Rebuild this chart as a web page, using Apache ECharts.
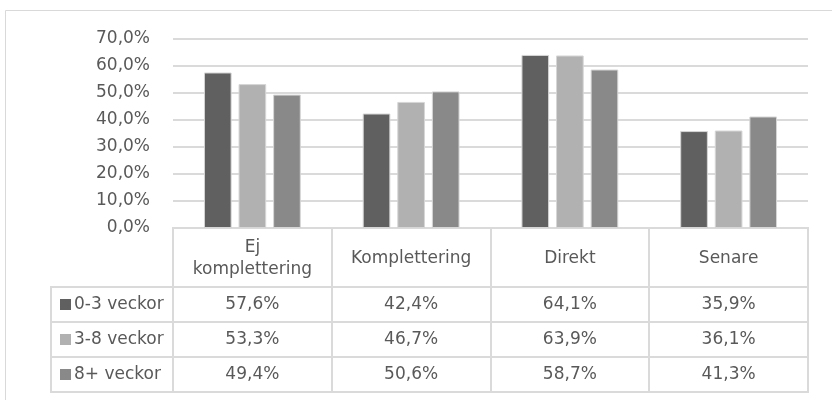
<!DOCTYPE html>
<html>
<head>
<meta charset="utf-8">
<script src="https://cdn.jsdelivr.net/npm/echarts@6/dist/echarts.min.js"></script>
<style>
  html, body { margin: 0; padding: 0; background: #fff; }
  #chart { width: 832px; height: 400px; }
</style>
</head>
<body>
<div id="chart"></div>
<script>
// Categories and series (share of cases, %)
const categories = ['Ej\nkomplettering', 'Komplettering', 'Direkt', 'Senare'];
const seriesNames = ['0-3 veckor', '3-8 veckor', '8+ veckor'];
const weeks0to3 = [57.6, 42.4, 64.1, 35.9];
const weeks3to8 = [53.3, 46.7, 63.9, 36.1];
const weeks8plus = [49.4, 50.6, 58.7, 41.3];
const yMin = 0, yMax = 70, yStep = 10;

const seriesValues = [weeks0to3, weeks3to8, weeks8plus];
const colors = ['#606060', '#b1b1b1', '#898989'];
const textColor = '#595959';
const lineColor = '#dadada';
const fontFamily = '"DejaVu Sans", sans-serif';
const fontSize = 17;

const fmt = v => v.toFixed(1).replace('.', ',') + '%';

const chart = echarts.init(document.getElementById('chart'), null, { renderer: 'canvas' });

chart.setOption({
  animation: false,
  backgroundColor: '#ffffff',
  grid: { left: 173, right: 24, top: 39, bottom: 172, containLabel: false },
  xAxis: {
    type: 'category',
    data: categories,
    axisLine: { show: false },
    axisTick: { show: false },
    axisLabel: { show: false },
    splitLine: { show: false }
  },
  yAxis: {
    type: 'value',
    min: yMin, max: yMax, interval: yStep,
    axisLine: { show: false },
    axisTick: { show: false },
    axisLabel: {
      formatter: v => fmt(v),
      color: textColor,
      fontFamily: fontFamily,
      fontSize: fontSize,
      margin: 23
    },
    splitLine: { lineStyle: { color: lineColor, width: 2 } }
  },
  series: seriesNames.map((name, i) => ({
    name: name,
    type: 'bar',
    data: seriesValues[i],
    barGap: '25%',
    barCategoryGap: '39%',
    itemStyle: { color: colors[i], borderColor: '#d6d6d6', borderWidth: 1 }
  }))
});

// Data table under the plot, aligned to the category axis
const c0 = chart.convertToPixel({ xAxisIndex: 0 }, 0);
const c1 = chart.convertToPixel({ xAxisIndex: 0 }, 1);
const cw = c1 - c0;
const yBase = Math.round(chart.convertToPixel({ yAxisIndex: 0 }, 0));
const tableLeft = c0 - cw / 2;
const tableRight = tableLeft + cw * categories.length;
const legendLeft = 51;
const headerH = 59;
const rowH = 35;
const tableBottom = yBase + headerH + rowH * seriesNames.length;

const g = [];
const hLine = (y, xa, xb) => g.push({ type: 'line', shape: { x1: xa, y1: y, x2: xb, y2: y }, style: { stroke: lineColor, lineWidth: 2 }, silent: true });
const vLine = (x, ya, yb) => g.push({ type: 'line', shape: { x1: x, y1: ya, x2: x, y2: yb }, style: { stroke: lineColor, lineWidth: 2 }, silent: true });
const label = (text, x, y, align) => g.push({
  type: 'text', x: x, y: y, silent: true,
  style: { text: text, fill: textColor, fontFamily: fontFamily, fontSize: fontSize, align: align || 'center', verticalAlign: 'middle', lineHeight: 22 }
});

// chart frame
g.push({ type: 'rect', shape: { x: 5.5, y: 10.5, width: 840, height: 400 }, style: { fill: null, stroke: '#d9d9d9', lineWidth: 1 }, silent: true });

// horizontal rules
hLine(yBase, tableLeft - 1, tableRight + 1);
for (let r = 0; r <= seriesNames.length; r++) {
  hLine(yBase + headerH + rowH * r, legendLeft - 1, tableRight + 1);
}
// vertical rules
vLine(legendLeft, yBase + headerH, tableBottom);
for (let k = 0; k <= categories.length; k++) {
  vLine(Math.round(tableLeft + cw * k), yBase, tableBottom);
}

// header cells
categories.forEach((cat, k) => label(cat, c0 + cw * k, yBase + headerH / 2 + 1));

// legend keys and values
seriesNames.forEach((name, i) => {
  const cy = yBase + headerH + rowH * i + rowH / 2;
  g.push({ type: 'rect', shape: { x: 60, y: Math.round(cy - 5.5), width: 11, height: 11 }, style: { fill: colors[i] }, silent: true });
  label(name, 74, cy, 'left');
  seriesValues[i].forEach((v, k) => label(fmt(v), c0 + cw * k, cy));
});

chart.setOption({ graphic: { elements: g } });
</script>
</body>
</html>
